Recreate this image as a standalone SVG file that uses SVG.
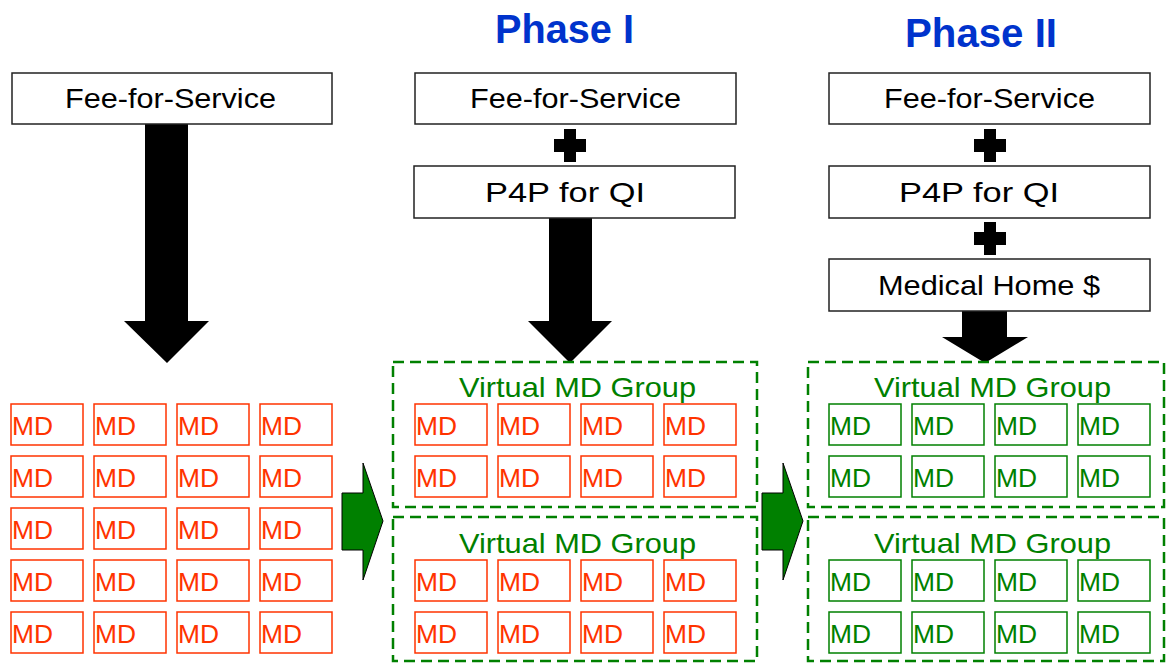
<svg xmlns="http://www.w3.org/2000/svg" width="1166" height="664" viewBox="0 0 1166 664">
<style>
.bg{fill:#ffffff}
.box{fill:#ffffff;stroke:#222;stroke-width:1.5}
.btxt{font-family:"Liberation Sans",Arial,sans-serif;font-size:28px;fill:#000}
.title{font-family:"Liberation Sans",Arial,sans-serif;font-size:41px;font-weight:bold;fill:#0033CC}
.mdr{fill:#fff;stroke:#FF3300;stroke-width:1.5}
.mdg{fill:#fff;stroke:#008000;stroke-width:1.5}
.tr{font-family:"Liberation Sans",Arial,sans-serif;font-size:25px;fill:#FF3300}
.tg{font-family:"Liberation Sans",Arial,sans-serif;font-size:25px;fill:#008000}
.grp{fill:none;stroke:#008000;stroke-width:2.5;stroke-dasharray:11 6}
.gtxt{font-family:"Liberation Sans",Arial,sans-serif;font-size:28px;fill:#008000}
.blk{fill:#000}
.garr{fill:#008000;stroke:#000;stroke-width:1}
</style>
<defs>
<g id="mdR"><rect class="mdr" x="0" y="0" width="72" height="41"/><text class="tr" x="1" y="31" textLength="41" lengthAdjust="spacingAndGlyphs">MD</text></g>
<g id="mdG"><rect class="mdg" x="0" y="0" width="72" height="41"/><text class="tg" x="1" y="31" textLength="41" lengthAdjust="spacingAndGlyphs">MD</text></g>
<path id="plus" d="M-6,-16 H6 V-6 H16 V7 H6 V17 H-6 V7 H-16 V-6 H-6 Z"/>
</defs>
<rect class="bg" x="0" y="0" width="1166" height="664"/>

<g id="titles">
<text class="title" x="495" y="43" textLength="139" lengthAdjust="spacingAndGlyphs">Phase I</text>
<text class="title" x="905" y="47" textLength="152" lengthAdjust="spacingAndGlyphs">Phase II</text>
</g>

<g id="connectors">
<polygon class="blk" points="145,124 188,124 188,321 209,321 167,363 124,321 145,321"/>
<polygon class="blk" points="549,218 592,218 592,321 612,321 570,363 528,321 549,321"/>
<polygon class="blk" points="962,311 1007,311 1007,337 1028,337 985,363 942,337 962,337"/>
<use href="#plus" class="blk" x="570" y="145"/>
<use href="#plus" class="blk" x="990" y="145"/>
<use href="#plus" class="blk" x="990" y="238"/>
<polygon class="garr" points="342,493 363,493 363,463 383,521 363,580 363,550 342,550"/>
<polygon class="garr" points="762,493 783,493 783,463 803,521 783,580 783,550 762,550"/>
</g>

<g id="fee-left">
<rect class="box" x="12" y="73" width="320" height="51"/>
<text class="btxt" x="65" y="108" textLength="211" lengthAdjust="spacingAndGlyphs">Fee-for-Service</text>
</g>
<g id="fee-p1">
<rect class="box" x="415" y="73" width="321" height="51"/>
<text class="btxt" x="470" y="108" textLength="211" lengthAdjust="spacingAndGlyphs">Fee-for-Service</text>
</g>
<g id="p4p-p1">
<rect class="box" x="414" y="166" width="321" height="52"/>
<text class="btxt" x="485" y="202" textLength="160" lengthAdjust="spacingAndGlyphs">P4P for QI</text>
</g>
<g id="fee-p2">
<rect class="box" x="829" y="73" width="321" height="51"/>
<text class="btxt" x="884" y="108" textLength="211" lengthAdjust="spacingAndGlyphs">Fee-for-Service</text>
</g>
<g id="p4p-p2">
<rect class="box" x="829" y="166" width="321" height="52"/>
<text class="btxt" x="899" y="202" textLength="160" lengthAdjust="spacingAndGlyphs">P4P for QI</text>
</g>
<g id="medhome-p2">
<rect class="box" x="829" y="259" width="321" height="52"/>
<text class="btxt" x="878" y="295" textLength="222" lengthAdjust="spacingAndGlyphs">Medical Home $</text>
</g>

<g id="md-left">
<use href="#mdR" x="11" y="404"/><use href="#mdR" x="94" y="404"/><use href="#mdR" x="177" y="404"/><use href="#mdR" x="260" y="404"/>
<use href="#mdR" x="11" y="456"/><use href="#mdR" x="94" y="456"/><use href="#mdR" x="177" y="456"/><use href="#mdR" x="260" y="456"/>
<use href="#mdR" x="11" y="508"/><use href="#mdR" x="94" y="508"/><use href="#mdR" x="177" y="508"/><use href="#mdR" x="260" y="508"/>
<use href="#mdR" x="11" y="560"/><use href="#mdR" x="94" y="560"/><use href="#mdR" x="177" y="560"/><use href="#mdR" x="260" y="560"/>
<use href="#mdR" x="11" y="612"/><use href="#mdR" x="94" y="612"/><use href="#mdR" x="177" y="612"/><use href="#mdR" x="260" y="612"/>
</g>

<g id="group-p1-a">
<rect class="grp" x="393" y="362" width="364" height="145"/>
<text class="gtxt" x="459" y="397" textLength="237" lengthAdjust="spacingAndGlyphs">Virtual MD Group</text>
<use href="#mdR" x="415" y="404"/><use href="#mdR" x="498" y="404"/><use href="#mdR" x="581" y="404"/><use href="#mdR" x="664" y="404"/>
<use href="#mdR" x="415" y="456"/><use href="#mdR" x="498" y="456"/><use href="#mdR" x="581" y="456"/><use href="#mdR" x="664" y="456"/>
</g>
<g id="group-p1-b">
<rect class="grp" x="393" y="517" width="364" height="144"/>
<text class="gtxt" x="459" y="553" textLength="237" lengthAdjust="spacingAndGlyphs">Virtual MD Group</text>
<use href="#mdR" x="415" y="560"/><use href="#mdR" x="498" y="560"/><use href="#mdR" x="581" y="560"/><use href="#mdR" x="664" y="560"/>
<use href="#mdR" x="415" y="612"/><use href="#mdR" x="498" y="612"/><use href="#mdR" x="581" y="612"/><use href="#mdR" x="664" y="612"/>
</g>

<g id="group-p2-a">
<rect class="grp" x="808" y="362" width="356" height="145"/>
<text class="gtxt" x="874" y="397" textLength="237" lengthAdjust="spacingAndGlyphs">Virtual MD Group</text>
<use href="#mdG" x="829" y="404"/><use href="#mdG" x="912" y="404"/><use href="#mdG" x="995" y="404"/><use href="#mdG" x="1078" y="404"/>
<use href="#mdG" x="829" y="456"/><use href="#mdG" x="912" y="456"/><use href="#mdG" x="995" y="456"/><use href="#mdG" x="1078" y="456"/>
</g>
<g id="group-p2-b">
<rect class="grp" x="808" y="517" width="356" height="144"/>
<text class="gtxt" x="874" y="553" textLength="237" lengthAdjust="spacingAndGlyphs">Virtual MD Group</text>
<use href="#mdG" x="829" y="560"/><use href="#mdG" x="912" y="560"/><use href="#mdG" x="995" y="560"/><use href="#mdG" x="1078" y="560"/>
<use href="#mdG" x="829" y="612"/><use href="#mdG" x="912" y="612"/><use href="#mdG" x="995" y="612"/><use href="#mdG" x="1078" y="612"/>
</g>
</svg>
